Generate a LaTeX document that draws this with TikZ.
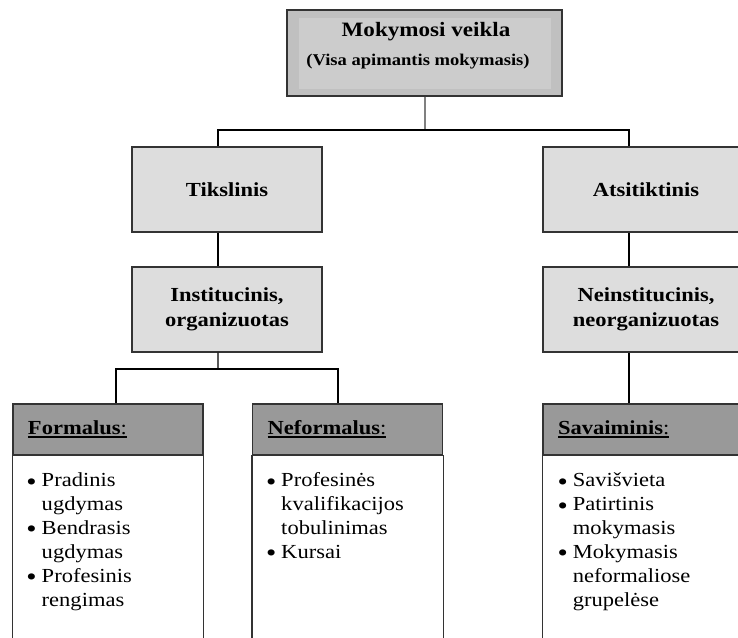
\documentclass[tikz,border=0pt]{standalone}
\usepackage{fontspec}
\setmainfont[FakeStretch=1.13]{Liberation Serif}
\usepackage{tikz}
\usetikzlibrary{positioning}

\definecolor{boxgray}{HTML}{DDDDDD}
\definecolor{headgray}{HTML}{999999}
\definecolor{topouter}{HTML}{C0C0C0}
\definecolor{topinner}{HTML}{CCCCCC}
\definecolor{edgegray}{HTML}{333333}

\newsavebox{\hwbox}
\newcommand{\headword}[1]{\sbox{\hwbox}{#1}\rlap{\rule[-3.5bp]{\wd\hwbox}{2.4bp}}\usebox{\hwbox}}
\newcommand{\dotmark}{\raisebox{-3.5bp}{\fontsize{26}{24}\selectfont\textbullet}}

\begin{document}
\begin{tikzpicture}[x=1bp, y=-1bp,
    every node/.style={font=\fontsize{20}{24}\selectfont},
    midbox/.style={draw=edgegray, line width=1.4bp, fill=boxgray, minimum height=85bp,
        align=center, inner sep=0pt, font=\fontsize{20}{25}\selectfont\bfseries},
    headbox/.style={draw=edgegray, line width=1.4bp, fill=headgray, minimum height=51bp,
        inner xsep=15bp, inner ysep=0pt, align=left},
    bodybox/.style={draw=edgegray, line width=1.4bp, fill=white},
    bulletlist/.style={anchor=north west, inner sep=0pt, align=left},
    link/.style={draw=black, line width=1.1bp},
    toplink/.style={draw=gray, line width=2bp}]

    \useasboundingbox (0,0) rectangle (738,638);
    \clip (0,0) rectangle (738,638);

    % --- Top: Mokymosi veikla ---
    \node[draw=edgegray, line width=1.4bp, fill=topouter, minimum width=275bp, minimum height=86bp] (veikla) at (424.5,53) {};
    \fill[topinner] (299,18) rectangle (551,89);
    \node[anchor=base, font=\fontsize{20.5}{24}\selectfont\bfseries] (veiklaname) at (426,37) {Mokymosi veikla};
    \node[anchor=base, font=\fontsize{16.5}{20}\selectfont\bfseries] (veiklasub) at (418,66) {(Visa apimantis mokymasis)};

    % --- Second level ---
    \node[midbox, minimum width=190bp] (tikslinis) at (227,189.5) {Tikslinis};
    \node[midbox, minimum width=206bp] (atsitiktinis) at (646,189.5) {Atsitiktinis};

    % --- Third level ---
    \node[midbox, minimum width=190bp] (institucinis) at (227,309.5) {Institucinis,\\organizuotas};
    \node[midbox, minimum width=206bp] (neinstitucinis) at (646,309.5) {Neinstitucinis,\\neorganizuotas};

    % --- Bottom headers ---
    \node[headbox, text width=160bp] (formalus) at (108,429.5) {\headword{\textbf{Formalus}:}};
    \node[headbox, text width=160bp] (neformalus) at (347.5,429.5) {\headword{\textbf{Neformalus}:}};
    \node[headbox, text width=176bp] (savaiminis) at (646,429.5) {\headword{\textbf{Savaiminis}:}};

    % Bodies (run past the lower edge)
    \draw[bodybox] (formalus.south west) rectangle ([yshift=-250bp]formalus.south east);
    \draw[bodybox] (neformalus.south west) rectangle ([yshift=-250bp]neformalus.south east);
    \draw[bodybox] (savaiminis.south west) rectangle ([yshift=-250bp]savaiminis.south east);

    % Lists
    \node[bulletlist] (formaluslist) at ([xshift=14bp, yshift=-14bp]formalus.south west) {%
        \begin{tabular}{@{}l@{\hspace{5bp}}l@{}}
            \dotmark & Pradinis\\ & ugdymas\\
            \dotmark & Bendrasis\\ & ugdymas\\
            \dotmark & Profesinis\\ & rengimas
        \end{tabular}};
    \node[bulletlist] (neformaluslist) at ([xshift=14bp, yshift=-14bp]neformalus.south west) {%
        \begin{tabular}{@{}l@{\hspace{5bp}}l@{}}
            \dotmark & Profesinės\\ & kvalifikacijos\\ & tobulinimas\\
            \dotmark & Kursai
        \end{tabular}};
    \node[bulletlist] (savaiminislist) at ([xshift=15bp, yshift=-14bp]savaiminis.south west) {%
        \begin{tabular}{@{}l@{\hspace{5bp}}l@{}}
            \dotmark & Savišvieta\\
            \dotmark & Patirtinis\\ & mokymasis\\
            \dotmark & Mokymasis\\ & neformaliose\\ & grupelėse
        \end{tabular}};

    % --- Connectors ---
    \coordinate (topbus) at (424.5,130);
    \coordinate (instbus) at (218,369);
    \draw[toplink] (veikla.south) -- (topbus);
    \draw[link] (topbus) -| ([xshift=-9bp]tikslinis.north);
    \draw[link] (topbus) -| ([xshift=-17bp]atsitiktinis.north);
    \draw[link] ([xshift=-9bp]tikslinis.south) -- ([xshift=-9bp]institucinis.north);
    \draw[link] ([xshift=-17bp]atsitiktinis.south) -- ([xshift=-17bp]neinstitucinis.north);
    \draw[link] ([xshift=-9bp]institucinis.south) -- (instbus);
    \draw[link] (instbus) -| ([xshift=8bp]formalus.north);
    \draw[link] (instbus) -| ([xshift=-9.5bp]neformalus.north);
    \draw[link] ([xshift=-17bp]neinstitucinis.south) -- ([xshift=-17bp]savaiminis.north);

\end{tikzpicture}
\end{document}
